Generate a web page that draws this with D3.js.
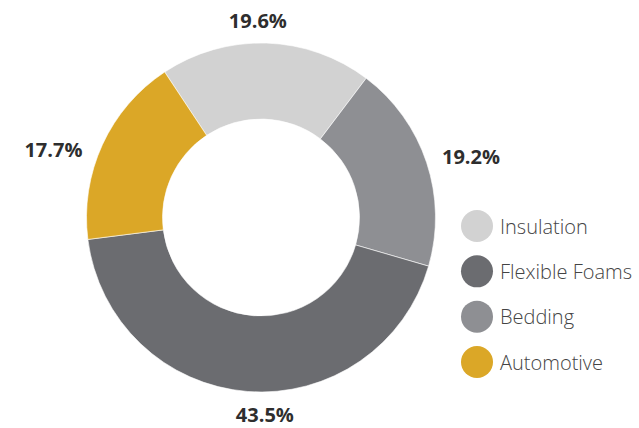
<!DOCTYPE html>
<html>
<head>
<meta charset="utf-8">
<script src="https://cdn.jsdelivr.net/npm/d3@7"></script>
<style>
  body { margin: 0; background: #fff; }
  svg { display: block; }
</style>
</head>
<body>
<div id="chart"></div>
<script>
// slice data, clockwise from the top-left
var categories = ["Insulation", "Bedding", "Flexible Foams", "Automotive"];
var shares = [19.6, 19.2, 43.5, 17.7];
var colors = ["#d2d2d2", "#8e8f93", "#6b6c70", "#dba727"];
var labels = ["19.6%", "19.2%", "43.5%", "17.7%"];
// legend order is different from slice order
var legendOrder = ["Insulation", "Flexible Foams", "Bedding", "Automotive"];

var width = 639, height = 428;
var cx = 261, cy = 217.5;
var outerR = 174.5, innerR = 98.5;
var startAngle = -33.5 * Math.PI / 180;
// small hand nudges (degrees) for the outside labels
var labelNudge = [-2.7, 2.1, -5.6, -6.6];

var svg = d3.select("#chart").append("svg")
    .attr("width", width).attr("height", height);

var data = categories.map(function(c, i) {
    return { name: c, value: shares[i], color: colors[i], label: labels[i], i: i };
});

var pie = d3.pie()
    .sort(null)
    .value(function(d) { return d.value; })
    .startAngle(startAngle)
    .endAngle(startAngle + 2 * Math.PI);

var arc = d3.arc().innerRadius(innerR).outerRadius(outerR);

var g = svg.append("g").attr("transform", "translate(" + cx + "," + cy + ")");
var arcs = pie(data);

g.selectAll("path")
    .data(arcs)
    .enter()
    .append("path")
    .attr("d", arc)
    .attr("fill", function(d) { return d.data.color; })
    .attr("stroke", "#fff")
    .attr("stroke-width", 0.6);

// labels sit on an ellipse round the ring (wider than tall, text is wide)
var rx = 221, ry = 197;
function labelPos(d) {
    var a = (d.startAngle + d.endAngle) / 2 + labelNudge[d.data.i] * Math.PI / 180;
    var s = Math.sin(a), c = Math.cos(a);
    var r = rx * ry / Math.sqrt(ry * ry * s * s + rx * rx * c * c);
    return [s * r, -c * r];
}

g.selectAll("text.pct")
    .data(arcs)
    .enter()
    .append("text")
    .attr("class", "pct")
    .attr("x", function(d) { return labelPos(d)[0]; })
    .attr("y", function(d) { return labelPos(d)[1]; })
    .attr("text-anchor", "middle")
    .attr("dominant-baseline", "central")
    .style("font-family", "'Open Sans', sans-serif")
    .style("font-weight", "700")
    .style("font-size", "20px")
    .attr("fill", "#2e2e2e")
    .text(function(d) { return d.data.label; });

// legend
var legend = svg.append("g");
var ly = d3.scalePoint().domain(legendOrder).range([226, 362]);

var items = legend.selectAll("g")
    .data(legendOrder)
    .enter()
    .append("g")
    .attr("transform", function(d) { return "translate(477," + ly(d) + ")"; });

items.append("circle")
    .attr("r", 16)
    .attr("fill", function(d) { return colors[categories.indexOf(d)]; });

items.append("text")
    .attr("x", 23)
    .attr("y", 0)
    .attr("dominant-baseline", "central")
    .style("font-family", "'Open Sans', sans-serif")
    .style("font-weight", "300")
    .style("font-size", "20px")
    .attr("fill", "#444")
    .text(function(d) { return d; });
</script>
</body>
</html>
